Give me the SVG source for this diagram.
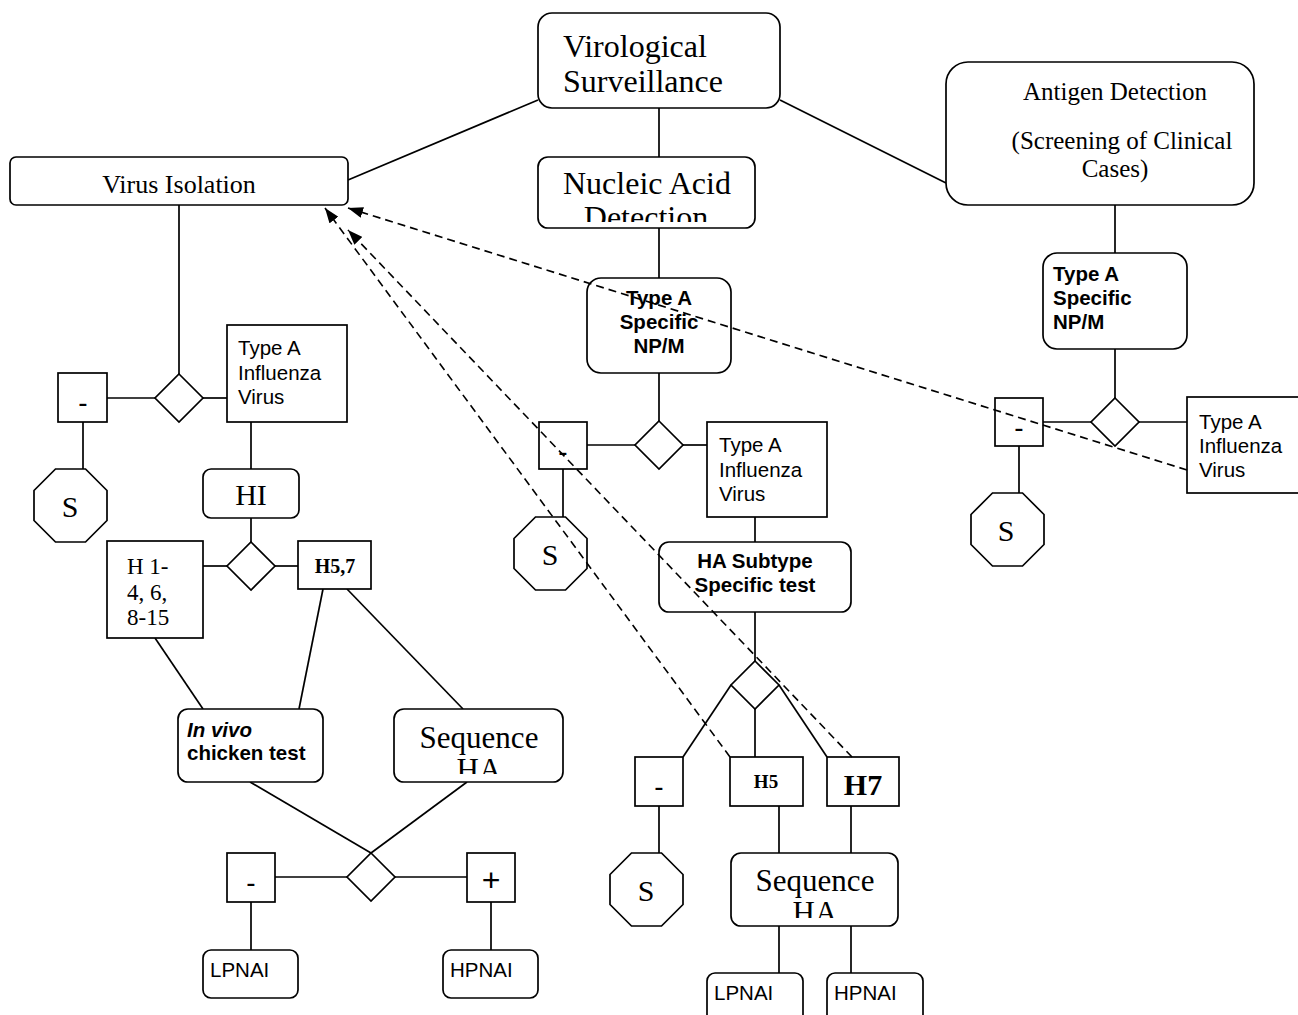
<svg xmlns="http://www.w3.org/2000/svg" width="1298" height="1015" viewBox="0 0 1298 1015">
<style>
.b{fill:#fff;stroke:#000;stroke-width:1.7}
.c{stroke:#000;stroke-width:1.7;fill:none}
.d{stroke:#000;stroke-width:1.6;fill:none;stroke-dasharray:8 5}
.sr{font-family:"Liberation Serif","Times New Roman",serif;fill:#000}
.sa{font-family:"Liberation Sans",Arial,sans-serif;fill:#000;font-size:20.5px}
.bd{font-weight:bold}
.m{text-anchor:middle}
.mi{font-family:"Liberation Sans",Arial,sans-serif;fill:#000;font-size:28px;text-anchor:middle}
.pl{font-family:"Liberation Sans",Arial,sans-serif;fill:#000;font-size:32px;text-anchor:middle}
</style>
<defs>
<marker id="ar" viewBox="0 0 15 11" refX="15" refY="5.5" markerWidth="15" markerHeight="11" markerUnits="userSpaceOnUse" orient="auto">
<path d="M0,0 L15,5.5 L0,11 z" fill="#000"/>
</marker>
<clipPath id="cpN"><rect x="540" y="158" width="214" height="64"/></clipPath>
<clipPath id="cpS1"><rect x="395" y="709" width="167" height="65"/></clipPath>
<clipPath id="cpS2"><rect x="732" y="854" width="165" height="64"/></clipPath>
<clipPath id="cpH"><rect x="108" y="542" width="94" height="85"/></clipPath>
</defs>
<rect width="1298" height="1015" fill="#fff"/>
<g id="connectors">
<line class="c" x1="538" y1="100" x2="348" y2="180"/>
<line class="c" x1="780" y1="100" x2="946" y2="183"/>
<line class="c" x1="659" y1="108" x2="659" y2="157"/>
<line class="c" x1="659" y1="228" x2="659" y2="278"/>
<line class="c" x1="659" y1="373" x2="659" y2="421"/>
<line class="c" x1="587" y1="445" x2="635" y2="445"/>
<line class="c" x1="683" y1="445" x2="707" y2="445"/>
<line class="c" x1="563" y1="469" x2="563" y2="517"/>
<line class="c" x1="755" y1="517" x2="755" y2="542"/>
<line class="c" x1="755" y1="612" x2="755" y2="661"/>
<line class="c" x1="731" y1="685" x2="683" y2="757"/>
<line class="c" x1="755" y1="709" x2="755" y2="757"/>
<line class="c" x1="779" y1="685" x2="827" y2="757"/>
<line class="c" x1="659" y1="806" x2="659" y2="853"/>
<line class="c" x1="779" y1="806" x2="779" y2="853"/>
<line class="c" x1="851" y1="806" x2="851" y2="853"/>
<line class="c" x1="779" y1="926" x2="779" y2="973"/>
<line class="c" x1="851" y1="926" x2="851" y2="973"/>
<line class="c" x1="1115" y1="205" x2="1115" y2="253"/>
<line class="c" x1="1115" y1="349" x2="1115" y2="398"/>
<line class="c" x1="1043" y1="422" x2="1091" y2="422"/>
<line class="c" x1="1139" y1="422" x2="1187" y2="422"/>
<line class="c" x1="1019" y1="446" x2="1019" y2="493"/>
<line class="c" x1="179" y1="205" x2="179" y2="374"/>
<line class="c" x1="107" y1="398" x2="155" y2="398"/>
<line class="c" x1="203" y1="398" x2="227" y2="398"/>
<line class="c" x1="83" y1="422" x2="83" y2="469"/>
<line class="c" x1="251" y1="422" x2="251" y2="469"/>
<line class="c" x1="251" y1="518" x2="251" y2="542"/>
<line class="c" x1="203" y1="566" x2="227" y2="566"/>
<line class="c" x1="275" y1="566" x2="298" y2="566"/>
<line class="c" x1="155" y1="638" x2="203" y2="709"/>
<line class="c" x1="323" y1="589" x2="299" y2="709"/>
<line class="c" x1="347" y1="589" x2="463" y2="709"/>
<line class="c" x1="250" y1="782" x2="371" y2="853"/>
<line class="c" x1="467" y1="782" x2="371" y2="853"/>
<line class="c" x1="275" y1="877" x2="347" y2="877"/>
<line class="c" x1="395" y1="877" x2="467" y2="877"/>
<line class="c" x1="251" y1="902" x2="251" y2="950"/>
<line class="c" x1="491" y1="902" x2="491" y2="950"/>
</g>
<g id="virological-surveillance">
<rect class="b" x="538" y="13" width="242" height="95" rx="14"/>
<text class="sr" x="563" y="57" font-size="32">Virological</text>
<text class="sr" x="563" y="92" font-size="32">Surveillance</text>
</g>
<g id="nucleic-acid-detection">
<rect class="b" x="538" y="157" width="217" height="71" rx="10"/>
<g clip-path="url(#cpN)">
<text class="sr" x="563" y="194" font-size="32">Nucleic Acid</text>
<text class="sr m" x="646" y="228" font-size="32">Detection</text>
</g>
</g>
<g id="antigen-detection">
<rect class="b" x="946" y="62" width="308" height="143" rx="22"/>
<text class="sr m" x="1115" y="100" font-size="25">Antigen Detection</text>
<text class="sr m" x="1122" y="149" font-size="25">(Screening of Clinical</text>
<text class="sr m" x="1115" y="177" font-size="25">Cases)</text>
</g>
<g id="virus-isolation">
<rect class="b" x="10" y="157" width="338" height="48" rx="6"/>
<text class="sr m" x="179" y="193" font-size="26">Virus Isolation</text>
</g>
<g id="np-m-center">
<rect class="b" x="587" y="278" width="144" height="95" rx="14"/>
<text class="sa bd m" x="659" y="305">Type A</text>
<text class="sa bd m" x="659" y="329">Specific</text>
<text class="sa bd m" x="659" y="353">NP/M</text>
</g>
<g id="diamond-center"><polygon class="b" points="659,421 683,445 659,469 635,445"/></g>
<g id="minus-center">
<rect class="b" x="539" y="422" width="48" height="47"/>
<text class="mi" x="563" y="461">-</text>
</g>
<g id="s-center">
<polygon class="b" points="535.5,517 565.5,517 587,538.5 587,568.5 565.5,590 535.5,590 514,568.5 514,538.5"/>
<text class="sr m" x="550" y="565" font-size="30">S</text>
</g>
<g id="typea-center">
<rect class="b" x="707" y="422" width="120" height="95"/>
<text class="sa" x="719" y="452">Type A</text>
<text class="sa" x="719" y="477">Influenza</text>
<text class="sa" x="719" y="501">Virus</text>
</g>
<g id="ha-subtype">
<rect class="b" x="659" y="542" width="192" height="70" rx="10"/>
<text class="sa bd m" x="755" y="568">HA Subtype</text>
<text class="sa bd m" x="755" y="592">Specific test</text>
</g>
<g id="diamond-ha"><polygon class="b" points="755,661 779,685 755,709 731,685"/></g>
<g id="minus-bottom">
<rect class="b" x="635" y="757" width="48" height="49"/>
<text class="mi" x="659" y="796">-</text>
</g>
<g id="s-bottom">
<polygon class="b" points="631.5,853 661.5,853 683,874.5 683,904.5 661.5,926 631.5,926 610,904.5 610,874.5"/>
<text class="sr m" x="646" y="901" font-size="30">S</text>
</g>
<g id="h5">
<rect class="b" x="730" y="757" width="73" height="49"/>
<text class="sr bd m" x="766" y="788" font-size="19">H5</text>
</g>
<g id="h7">
<rect class="b" x="827" y="757" width="72" height="49"/>
<text class="sr bd m" x="863" y="795" font-size="30">H7</text>
</g>
<g id="sequence-ha-right">
<rect class="b" x="731" y="853" width="167" height="73" rx="10"/>
<g clip-path="url(#cpS2)">
<text class="sr m" x="815" y="891" font-size="31">Sequence</text>
<text class="sr m" x="815" y="923" font-size="31">HA</text>
</g>
</g>
<g id="lpnai-right">
<rect class="b" x="707" y="973" width="96" height="50" rx="8"/>
<text class="sa" x="714" y="1000">LPNAI</text>
</g>
<g id="hpnai-right">
<rect class="b" x="827" y="973" width="96" height="50" rx="8"/>
<text class="sa" x="834" y="1000">HPNAI</text>
</g>
<g id="np-m-right">
<rect class="b" x="1043" y="253" width="144" height="96" rx="14"/>
<text class="sa bd" x="1053" y="281">Type A</text>
<text class="sa bd" x="1053" y="305">Specific</text>
<text class="sa bd" x="1053" y="329">NP/M</text>
</g>
<g id="diamond-right"><polygon class="b" points="1115,398 1139,422 1115,446 1091,422"/></g>
<g id="minus-right">
<rect class="b" x="995" y="398" width="48" height="48"/>
<text class="mi" x="1019" y="437">-</text>
</g>
<g id="s-right">
<polygon class="b" points="992.5,493 1022.5,493 1044,514.5 1044,544.5 1022.5,566 992.5,566 971,544.5 971,514.5"/>
<text class="sr m" x="1006" y="541" font-size="30">S</text>
</g>
<g id="typea-right">
<rect class="b" x="1187" y="397" width="112" height="96"/>
<text class="sa" x="1199" y="429">Type A</text>
<text class="sa" x="1199" y="453">Influenza</text>
<text class="sa" x="1199" y="477">Virus</text>
</g>
<g id="diamond-left"><polygon class="b" points="179,374 203,398 179,422 155,398"/></g>
<g id="minus-left">
<rect class="b" x="58" y="373" width="49" height="49"/>
<text class="mi" x="83" y="412">-</text>
</g>
<g id="s-left">
<polygon class="b" points="55.5,469 85.5,469 107,490.5 107,520.5 85.5,542 55.5,542 34,520.5 34,490.5"/>
<text class="sr m" x="70" y="517" font-size="30">S</text>
</g>
<g id="typea-left">
<rect class="b" x="227" y="325" width="120" height="97"/>
<text class="sa" x="238" y="355">Type A</text>
<text class="sa" x="238" y="380">Influenza</text>
<text class="sa" x="238" y="404">Virus</text>
</g>
<g id="hi">
<rect class="b" x="203" y="469" width="96" height="49" rx="8"/>
<text class="sr m" x="251" y="505" font-size="30">HI</text>
</g>
<g id="diamond-hi"><polygon class="b" points="251,542 275,566 251,590 227,566"/></g>
<g id="h1-15">
<rect class="b" x="107" y="541" width="96" height="97"/>
<g clip-path="url(#cpH)">
<text class="sr" x="127" y="574" font-size="23">H 1-</text>
<text class="sr" x="127" y="600" font-size="23">4, 6,</text>
<text class="sr" x="127" y="625" font-size="23">8-15</text>
</g>
</g>
<g id="h57">
<rect class="b" x="298" y="541" width="73" height="48"/>
<text class="sr bd m" x="335" y="573" font-size="20">H5,7</text>
</g>
<g id="in-vivo">
<rect class="b" x="178" y="709" width="145" height="73" rx="10"/>
<text class="sa bd" x="187" y="737" font-style="italic">In vivo</text>
<text class="sa bd" x="187" y="760">chicken test</text>
</g>
<g id="sequence-ha-left">
<rect class="b" x="394" y="709" width="169" height="73" rx="10"/>
<g clip-path="url(#cpS1)">
<text class="sr m" x="479" y="748" font-size="31">Sequence</text>
<text class="sr m" x="479" y="780" font-size="31">HA</text>
</g>
</g>
<g id="diamond-bottom"><polygon class="b" points="371,853 395,877 371,901 347,877"/></g>
<g id="minus-bottom-left">
<rect class="b" x="227" y="853" width="48" height="49"/>
<text class="mi" x="251" y="892">-</text>
</g>
<g id="plus-bottom">
<rect class="b" x="467" y="853" width="48" height="49"/>
<text class="pl" x="491" y="891">+</text>
</g>
<g id="lpnai-left">
<rect class="b" x="203" y="950" width="95" height="48" rx="8"/>
<text class="sa" x="210" y="977">LPNAI</text>
</g>
<g id="hpnai-left">
<rect class="b" x="443" y="950" width="95" height="48" rx="8"/>
<text class="sa" x="450" y="977">HPNAI</text>
</g>
<g id="dashed-connectors">
<line class="d" x1="1187" y1="470" x2="348" y2="208" marker-end="url(#ar)"/>
<line class="d" x1="730" y1="757" x2="325" y2="208" marker-end="url(#ar)"/>
<line class="d" x1="852" y1="757" x2="348" y2="230" marker-end="url(#ar)"/>
</g>
</svg>
